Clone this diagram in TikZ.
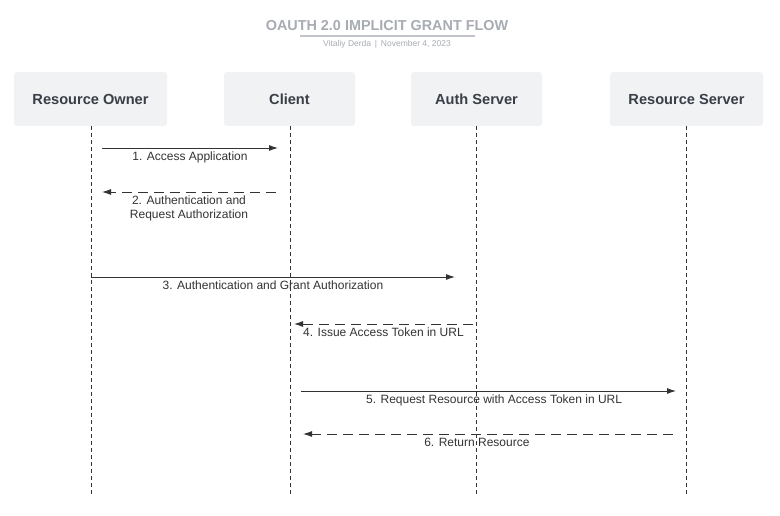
\documentclass[tikz,border=0pt]{standalone}
\usepackage{fontspec}
\setmainfont{Liberation Sans}
\usetikzlibrary{arrows.meta}

\definecolor{boxgrey}{HTML}{F1F2F4}
\definecolor{headgrey}{HTML}{3A3F47}
\definecolor{titlegrey}{HTML}{A7ABB2}
\definecolor{msggrey}{HTML}{333333}

\tikzset{
    actor/.style={fill=boxgrey, rounded corners=3pt, minimum height=54pt,
        text=headgrey, font=\fontsize{14.6}{17}\selectfont\bfseries},
    lifeline/.style={draw=msggrey, line width=0.9pt, dash pattern=on 4pt off 3pt},
    msg/.style={draw=msggrey, line width=0.9pt, -{Latex[length=9pt,width=6pt]}},
    reply/.style={msg, dash pattern=on 10pt off 6pt},
    msglabel/.style={text=msggrey, font=\fontsize{12}{14}\selectfont,
        inner sep=1pt, align=center}
}

\begin{document}
\begin{tikzpicture}[x=1pt, y=-1pt]
    \useasboundingbox (0,0) rectangle (780,516);

    % Title and subtitle
    \node[text=titlegrey, font=\fontsize{14.4}{17}\selectfont\bfseries] (title) at (387,26) {OAUTH 2.0 IMPLICIT GRANT FLOW};
    \draw[titlegrey!70, line width=1.4pt] (300,36) -- (475,36);
    \node[text=titlegrey, font=\fontsize{8.5}{10}\selectfont] (sub) at (387,44) {Vitaliy Derda \,|\, November 4, 2023};

    % Participants
    \node[actor, minimum width=153pt] (owner) at (90.5,99) {Resource Owner};
    \node[actor, minimum width=131pt] (client) at (289.5,99) {Client};
    \node[actor, minimum width=131pt] (auth) at (476.5,99) {Auth Server};
    \node[actor, minimum width=153pt] (rserver) at (686.5,99) {Resource Server};

    % Lifelines
    \coordinate (ownerEnd) at (91,495);
    \coordinate (clientEnd) at (290,495);
    \coordinate (authEnd) at (476,495);
    \coordinate (rserverEnd) at (686,495);
    \draw[lifeline] (owner.south -| ownerEnd) -- (ownerEnd);
    \draw[lifeline] (client.south -| clientEnd) -- (clientEnd);
    \draw[lifeline] (auth.south -| authEnd) -- (authEnd);
    \draw[lifeline] (rserver.south -| rserverEnd) -- (rserverEnd);

    % Message end points
    \coordinate (m1a) at (102,148);  \coordinate (m1b) at (278,148);
    \coordinate (m2a) at (276,192);  \coordinate (m2b) at (102,192);
    \coordinate (m3a) at (91,277);   \coordinate (m3b) at (455,277);
    \coordinate (m4a) at (473,324);  \coordinate (m4b) at (294,324);
    \coordinate (m5a) at (301,391);  \coordinate (m5b) at (676,391);
    \coordinate (m6a) at (673,434);  \coordinate (m6b) at (303,434);

    % Messages
    \draw[msg] (m1a) -- (m1b) node[msglabel, midway, below=2.5pt] (l1) {1. Access Application};
    \draw[reply] (m2a) -- (m2b) node[msglabel, midway, below=2.5pt] (l2) {2. Authentication and\\Request Authorization};
    \draw[msg] (m3a) -- (m3b) node[msglabel, midway, below=2.5pt] (l3) {3. Authentication and Grant Authorization};
    \draw[reply] (m4a) -- (m4b) node[msglabel, midway, below=2.5pt] (l4) {4. Issue Access Token in URL};
    \draw[msg] (m5a) -- (m5b) node[msglabel, pos=0.515, below=2.5pt] (l5) {5. Request Resource with Access Token in URL};
    \draw[reply] (m6a) -- (m6b) node[msglabel, pos=0.53, below=2.5pt] (l6) {6. Return Resource};

\end{tikzpicture}
\end{document}
